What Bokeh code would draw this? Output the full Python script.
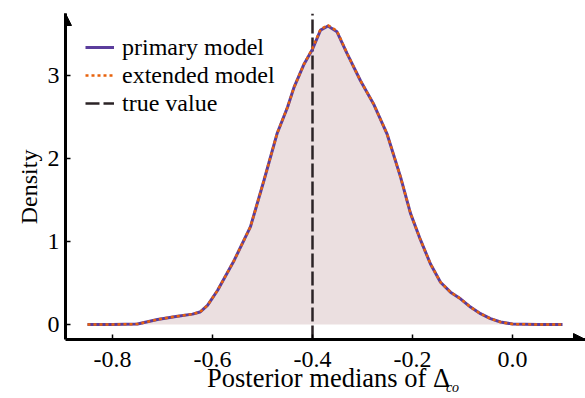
from math import pi
from bokeh.plotting import figure
from bokeh.models import (Range1d, FixedTicker, NumeralTickFormatter, LinearAxis,
                          Arrow, NormalHead, Legend, LegendItem)
from bokeh.embed import file_html
from bokeh.resources import INLINE

# ---- data ----
x_vals = [-0.85, -0.80, -0.75, -0.71, -0.67, -0.64, -0.625, -0.61, -0.59, -0.557,
          -0.524, -0.497, -0.471, -0.45, -0.437, -0.417, -0.40, -0.384, -0.369,
          -0.351, -0.331, -0.304, -0.277, -0.251, -0.224, -0.204, -0.184, -0.164,
          -0.144, -0.124, -0.104, -0.084, -0.064, -0.044, -0.024, 0.0, 0.05, 0.10]
primary_density = [0.0, 0.0, 0.005, 0.06, 0.10, 0.125, 0.15, 0.23, 0.41, 0.77,
                   1.18, 1.74, 2.30, 2.62, 2.86, 3.14, 3.32, 3.55, 3.60,
                   3.53, 3.27, 2.94, 2.65, 2.30, 1.78, 1.34, 1.02, 0.73,
                   0.51, 0.39, 0.31, 0.21, 0.13, 0.07, 0.03, 0.005, 0.0, 0.0]
extended_density = [0.0, 0.0, 0.005, 0.06, 0.10, 0.125, 0.15, 0.23, 0.41, 0.77,
                    1.18, 1.74, 2.30, 2.62, 2.86, 3.14, 3.33, 3.56, 3.61,
                    3.54, 3.27, 2.94, 2.65, 2.30, 1.78, 1.34, 1.02, 0.73,
                    0.51, 0.39, 0.31, 0.21, 0.13, 0.07, 0.03, 0.005, 0.0, 0.0]
true_value = -0.4
x_ticks = [-0.8, -0.6, -0.4, -0.2, 0.0]
y_ticks = [0, 1, 2, 3]
series_labels = ["primary model", "extended model", "true value"]
x_title = "Posterior medians of Δ"
x_title_sub = "co"
y_title = "Density"

XMIN, XMAX = -0.894, 0.146
YMIN, YMAX = -0.181, 3.751
SERIF = "Liberation Serif"

# positions of the axis titles (layout only)
X_TITLE_POS = -0.368
X_SUB_POS = -0.120
Y_TITLE_POS = 2.11

p = figure(width=585, height=398, output_backend="svg", toolbar_location=None,
           x_range=Range1d(XMIN, XMAX), y_range=Range1d(YMIN, YMAX),
           min_border_left=65, min_border_right=0, min_border_top=13,
           min_border_bottom=59)
p.outline_line_color = None
p.xgrid.visible = False
p.ygrid.visible = False
p.background_fill_color = "white"
p.border_fill_color = "white"

# fill
p.varea(x=x_vals, y1=0, y2=primary_density, fill_color="#ebdfe0", fill_alpha=1.0)

r_true = p.line([true_value, true_value], [YMIN, YMAX], line_color="#2b2326",
                line_width=2.5, line_dash="14 4")
r_primary = p.line(x_vals, primary_density, line_color="#5b3d9c", line_width=3)
r_extended = p.line(x_vals, extended_density, line_color="#e8620c", line_width=2.5,
                    line_dash="3 3")

legend = Legend(items=[LegendItem(label=series_labels[0], renderers=[r_primary]),
                       LegendItem(label=series_labels[1], renderers=[r_extended]),
                       LegendItem(label=series_labels[2], renderers=[r_true])],
                location=(20, 222), border_line_color=None, background_fill_alpha=0,
                label_text_font=SERIF, label_text_font_size="24px",
                label_text_color="black",
                glyph_width=29, glyph_height=28, label_height=28, spacing=0,
                label_standoff=8, padding=0, margin=0)
p.add_layout(legend)

# axes
for ax in (p.xaxis[0], p.yaxis[0]):
    ax.axis_line_width = 3
    ax.axis_line_color = "black"
    ax.major_tick_in = 5
    ax.major_tick_out = 0
    ax.major_tick_line_width = 1.5
    ax.minor_tick_line_color = None
    ax.major_label_text_font = SERIF
    ax.major_label_text_font_size = "24px"
    ax.major_label_text_color = "black"

p.xaxis.ticker = FixedTicker(ticks=x_ticks)
p.xaxis.formatter = NumeralTickFormatter(format="0.0")
p.xaxis.major_label_standoff = 12
p.yaxis.ticker = FixedTicker(ticks=y_ticks)
p.yaxis.major_label_standoff = 6


def title_axis(pos, text, size, style, standoff, orientation="horizontal"):
    ax = LinearAxis(ticker=FixedTicker(ticks=[pos]),
                    major_label_overrides={pos: text})
    ax.axis_line_color = None
    ax.major_tick_line_color = None
    ax.minor_tick_line_color = None
    ax.major_tick_in = 0
    ax.major_tick_out = 0
    ax.major_label_text_font = SERIF
    ax.major_label_text_font_size = size
    ax.major_label_text_font_style = style
    ax.major_label_text_color = "black"
    ax.major_label_standoff = standoff
    ax.major_label_orientation = orientation
    return ax


# subscript panel first, then the title pulled back up over it
p.add_layout(title_axis(X_SUB_POS, x_title_sub, "14px", "italic", 10), "below")
p.add_layout(title_axis(X_TITLE_POS, x_title, "26.5px", "normal", -35), "below")
p.add_layout(title_axis(Y_TITLE_POS, y_title, "24px", "normal", 15, pi / 2), "left")

# axis arrows
p.add_layout(Arrow(end=NormalHead(size=12, fill_color="black", line_color="black"),
                   x_start=XMAX - 0.03, y_start=YMIN, x_end=XMAX, y_end=YMIN,
                   line_width=3, line_color="black"))
p.add_layout(Arrow(end=NormalHead(size=12, fill_color="black", line_color="black"),
                   x_start=XMIN, y_start=YMAX - 0.2, x_end=XMIN, y_end=YMAX,
                   line_width=3, line_color="black"))

open("out.html", "w").write(file_html(p, INLINE))
